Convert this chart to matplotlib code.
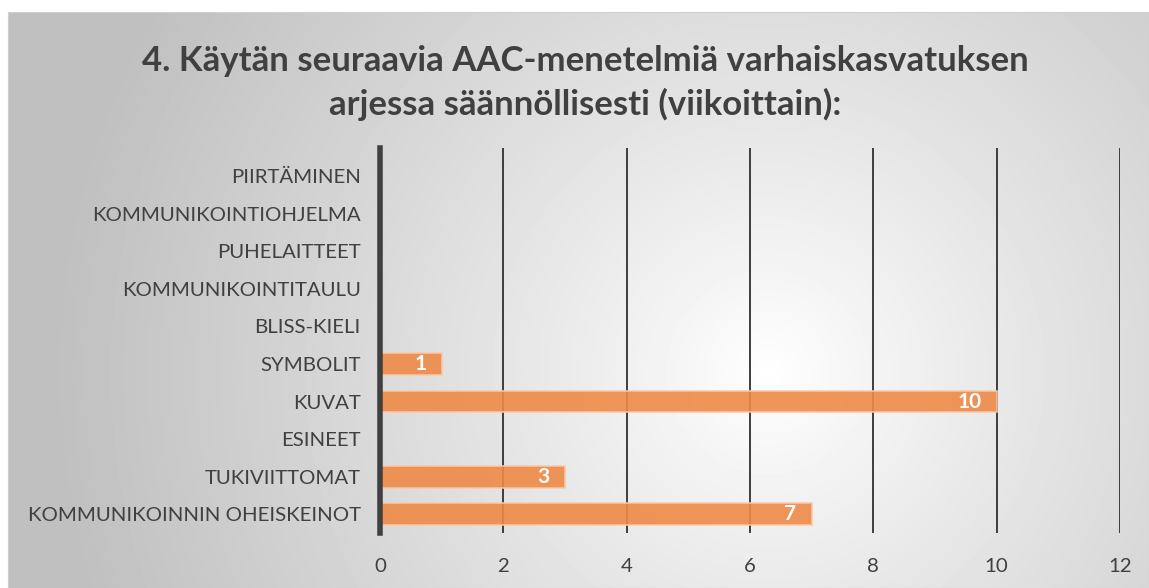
import numpy as np
import matplotlib.pyplot as plt

plt.rcParams['font.family'] = ['Lato', 'DejaVu Sans']

categories = ['KOMMUNIKOINNIN OHEISKEINOT', 'TUKIVIITTOMAT', 'ESINEET', 'KUVAT',
              'SYMBOLIT', 'BLISS-KIELI', 'KOMMUNIKOINTITAULU', 'PUHELAITTEET',
              'KOMMUNIKOINTIOHJELMA', 'PIIRTÄMINEN']
values = [7, 3, 0, 10, 1, 0, 0, 0, 0, 0]
xticks = [0, 2, 4, 6, 8, 10, 12]
title = '4. Käytän seuraavia AAC-menetelmiä varhaiskasvatuksen\narjessa säännöllisesti (viikoittain):'

W, H = 1149, 588
fig = plt.figure(figsize=(W / 100, H / 100), dpi=100)

# radial gradient background for the chart area
bg = fig.add_axes([8 / W, 0, 1 - 8 / W, 1 - 12 / H], zorder=0)
yy, xx = np.mgrid[0:576, 0:1141]
d = np.sqrt((xx - 760) ** 2 + (yy - 360) ** 2) / 720
d = np.clip(d, 0, 1)
g = 1.0 - 0.25 * d ** 0.9
bg.imshow(g, cmap='gray', vmin=0, vmax=1, aspect='auto', extent=[0, 1, 0, 1])
bg.set_xticks([])
bg.set_yticks([])
for s in bg.spines.values():
    s.set_color('#d0d0d0')

ax = fig.add_axes([380 / W, 1 - 533 / H, 740 / W, 385 / H], zorder=1)
ax.patch.set_alpha(0)

y = np.arange(len(categories))
ax.barh(y, values, height=0.58, color='#ef8a47', alpha=0.9,
        edgecolor='#f8c9a8', linewidth=1.2, zorder=3)
for yi, v in zip(y, values):
    if v > 0:
        ax.text(v - 0.25, yi, str(v), ha='right', va='center', color='white',
                fontsize=15, fontweight='bold', zorder=4)

ax.set_xlim(0, 12)
ax.set_ylim(-0.5, 9.75)
ax.set_xticks(xticks)
ax.set_yticks(y)
ax.set_yticklabels(categories)
ax.grid(axis='x', color='#303030', linewidth=1.3, zorder=1)
for s in ['top', 'right', 'bottom']:
    ax.spines[s].set_visible(False)
ax.spines['left'].set_color('#404040')
ax.spines['left'].set_linewidth(4)
ax.spines['left'].set_zorder(5)
ax.tick_params(axis='y', length=0, pad=14, labelsize=14.7, labelcolor='#404040')
ax.tick_params(axis='x', length=0, pad=18, labelsize=14.7, labelcolor='#404040')

fig.text(585 / W, 1 - 83 / H, title, ha='center', va='center', fontsize=25,
         fontweight='bold', color='#404040', linespacing=1.4)

fig.savefig('out.png', dpi=100)
